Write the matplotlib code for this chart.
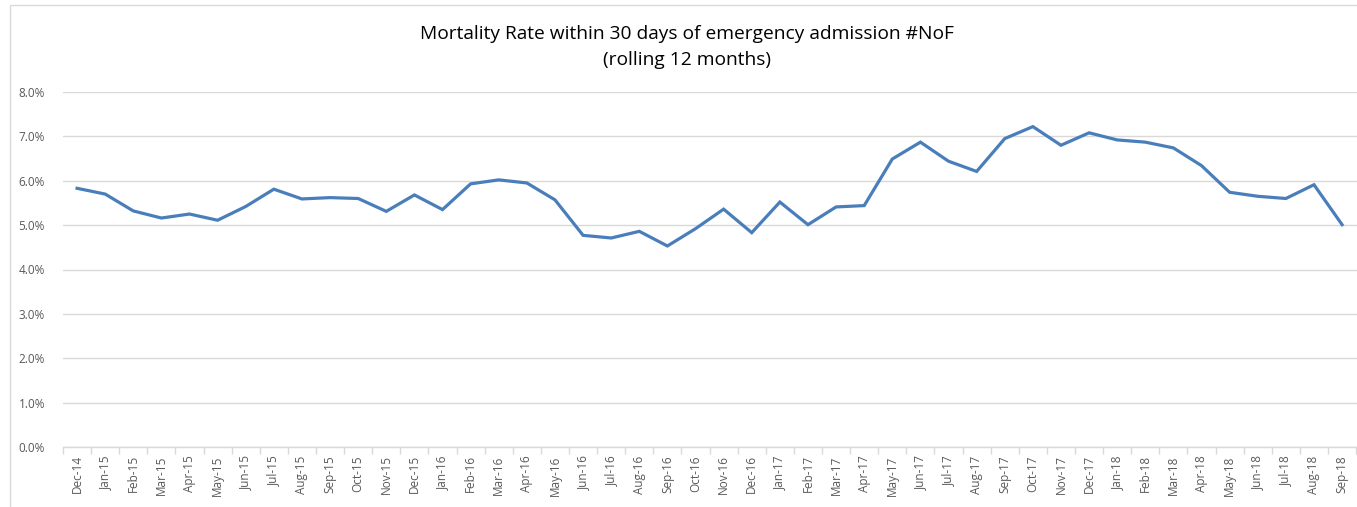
import matplotlib
matplotlib.use("Agg")
import matplotlib.pyplot as plt
from matplotlib.ticker import FuncFormatter, FixedLocator
from matplotlib.patches import Rectangle
import numpy as np

months = ["Dec-14", "Jan-15", "Feb-15", "Mar-15", "Apr-15", "May-15", "Jun-15", "Jul-15",
          "Aug-15", "Sep-15", "Oct-15", "Nov-15", "Dec-15", "Jan-16", "Feb-16", "Mar-16",
          "Apr-16", "May-16", "Jun-16", "Jul-16", "Aug-16", "Sep-16", "Oct-16", "Nov-16",
          "Dec-16", "Jan-17", "Feb-17", "Mar-17", "Apr-17", "May-17", "Jun-17", "Jul-17",
          "Aug-17", "Sep-17", "Oct-17", "Nov-17", "Dec-17", "Jan-18", "Feb-18", "Mar-18",
          "Apr-18", "May-18", "Jun-18", "Jul-18", "Aug-18", "Sep-18"]
mortality_pct = [5.83, 5.70, 5.32, 5.16, 5.25, 5.11, 5.42, 5.81,
                 5.59, 5.62, 5.60, 5.31, 5.68, 5.35, 5.93, 6.02,
                 5.95, 5.57, 4.77, 4.71, 4.86, 4.53, 4.92, 5.36,
                 4.83, 5.52, 5.01, 5.41, 5.44, 6.49, 6.87, 6.44,
                 6.21, 6.95, 7.22, 6.80, 7.08, 6.92, 6.87, 6.74,
                 6.34, 5.74, 5.65, 5.60, 5.91, 5.01]
y_ticks = [0.0, 0.01, 0.02, 0.03, 0.04, 0.05, 0.06, 0.07, 0.08]
title = "Mortality Rate within 30 days of emergency admission #NoF\n(rolling 12 months)"

W, H = 1357, 507
fig = plt.figure(figsize=(W / 100, H / 100), dpi=100)
font = "Open Sans"
gray = "#595959"

# chart border
fig.patches.append(Rectangle((10 / W, -0.01), 1.02, 1 - 5 / H + 0.01, transform=fig.transFigure,
                             fill=False, edgecolor="#d9d9d9", linewidth=1.0))

left, right = 63 / W, 1357 / W
bottom, top = 1 - 447 / H, 1 - 92 / H
ax = fig.add_axes([left, bottom, right - left, top - bottom])

vals = np.array(mortality_pct) / 100.0
x = np.arange(len(months))
ax.plot(x, vals, color="#4A7EBB", linewidth=2.3, solid_joinstyle="miter")

ax.set_xlim(-0.5, len(months) - 0.5 + 0.03)
ax.set_ylim(0, 0.08)
ax.yaxis.set_major_locator(FixedLocator(y_ticks))
ax.yaxis.set_major_formatter(FuncFormatter(lambda v, p: f"{v*100:.1f}%"))
ax.grid(axis="y", color="#d9d9d9", linewidth=1.0)
ax.set_axisbelow(True)

for s in ["top", "right", "left"]:
    ax.spines[s].set_visible(False)
ax.spines["bottom"].set_color("#d9d9d9")
ax.spines["bottom"].set_linewidth(1.0)

ax.set_xticks(x)
ax.set_xticklabels(months, rotation=90, fontsize=8.5, color=gray, family=font)
ax.set_xticks(np.arange(len(months) + 1) - 0.5, minor=True)
ax.tick_params(axis="x", which="major", length=0, pad=6)
ax.tick_params(axis="x", which="minor", length=5, color="#d9d9d9", width=1.0)
ax.tick_params(axis="y", length=0, pad=13, labelsize=8.5, labelcolor=gray)
for lab in ax.get_yticklabels():
    lab.set_family(font)

fig.text(0.5065, 1 - 47 / H, title, ha="center", va="center", fontsize=13.8,
         family=font, color="#000000", linespacing=1.62)

fig.savefig("out.png", dpi=100)
